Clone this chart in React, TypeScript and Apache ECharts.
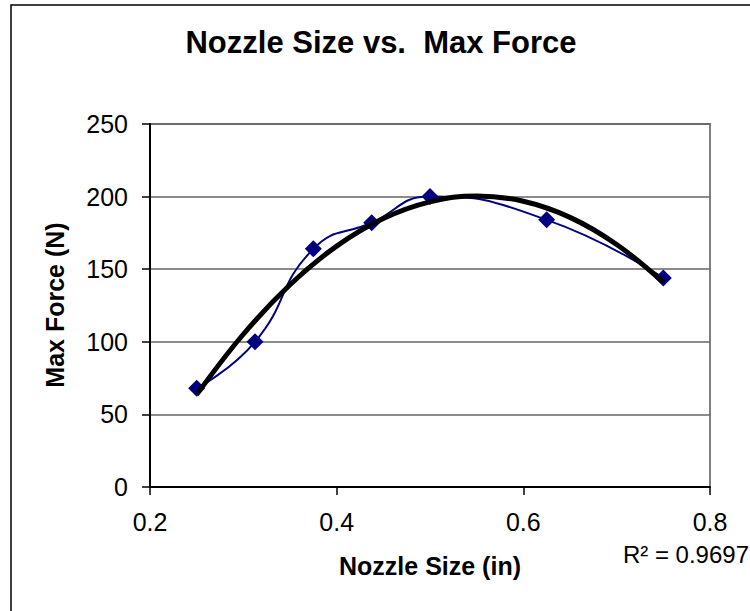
import React, { useEffect, useRef } from "react";
import * as echarts from "echarts";

const nozzleSizes = [0.25, 0.3125, 0.375, 0.4375, 0.5, 0.625, 0.75];
const maxForces = [68, 100, 164, 182, 200, 184, 144];
const trendX = [0.25, 0.3, 0.35, 0.4, 0.45, 0.5, 0.55, 0.6, 0.65, 0.7, 0.75];
const trendY = [63.6, 105.2, 139.3, 165.9, 184.9, 196.4, 200.4, 196.8, 185.7, 167.0, 140.9];
const titleText = "Nozzle Size vs.  Max Force";
const xAxisTitle = "Nozzle Size (in)";
const yAxisTitle = "Max Force (N)";
const r2Text = "R² = 0.9697";

const FONT = "'Liberation Sans', Arial, sans-serif";

export default function App() {
  const ref = useRef<HTMLDivElement>(null);
  useEffect(() => {
    document.body.style.margin = "0";
    const chart = echarts.init(ref.current!, null, { renderer: "svg" });
    chart.setOption({
      animation: false,
      backgroundColor: "#ffffff",
      grid: {
        left: 150,
        right: 40,
        top: 124,
        bottom: 124,
        show: true,
        borderColor: "#808080",
        borderWidth: 2,
        backgroundColor: "transparent",
      },
      xAxis: {
        type: "value",
        min: 0.2,
        max: 0.8,
        interval: 0.2,
        axisLine: { show: true, onZero: false, lineStyle: { color: "#000", width: 2 } },
        axisTick: { show: true, inside: false, length: 8, lineStyle: { color: "#000", width: 1.5 } },
        splitLine: { show: false },
        axisLabel: {
          color: "#000",
          fontFamily: FONT,
          fontSize: 25,
          margin: 22,
          formatter: (v: number) => String(Math.round(v * 10) / 10),
        },
      },
      yAxis: {
        type: "value",
        min: 0,
        max: 250,
        interval: 50,
        axisLine: { show: true, onZero: false, lineStyle: { color: "#000", width: 2 } },
        axisTick: { show: true, inside: false, length: 8, lineStyle: { color: "#000", width: 1.5 } },
        splitLine: { show: true, lineStyle: { color: "#666", width: 1.5 } },
        axisLabel: {
          color: "#000",
          fontFamily: FONT,
          fontSize: 25,
          margin: 22,
        },
      },
      series: [
        {
          type: "line",
          data: nozzleSizes.map((x, i) => [x, maxForces[i]]),
          smooth: 0.5,
          lineStyle: { color: "#000080", width: 2 },
          itemStyle: { color: "#000080" },
          symbol: "diamond",
          symbolSize: 17,
          z: 2,
        },
        {
          type: "line",
          data: trendX.map((x, i) => [x, trendY[i]]),
          smooth: 0.4,
          showSymbol: false,
          symbol: "none",
          lineStyle: { color: "#000", width: 5 },
          z: 3,
        },
      ],
      graphic: [
        {
          type: "rect",
          shape: { x: 11, y: 5, width: 800, height: 700 },
          style: { fill: "none", stroke: "#000", lineWidth: 1.5 },
          silent: true,
        },
        {
          type: "text",
          x: 381,
          y: 42,
          style: {
            text: titleText,
            fontFamily: FONT,
            fontSize: 31,
            fontWeight: "bold",
            fill: "#000",
            align: "center",
            verticalAlign: "middle",
          },
        },
        {
          type: "text",
          x: 55,
          y: 305,
          rotation: Math.PI / 2,
          style: {
            text: yAxisTitle,
            fontFamily: FONT,
            fontSize: 25,
            fontWeight: "bold",
            fill: "#000",
            align: "center",
            verticalAlign: "middle",
          },
        },
        {
          type: "text",
          x: 430,
          y: 566,
          style: {
            text: xAxisTitle,
            fontFamily: FONT,
            fontSize: 25,
            fontWeight: "bold",
            fill: "#000",
            align: "center",
            verticalAlign: "middle",
          },
        },
        {
          type: "text",
          x: 749,
          y: 554,
          style: {
            text: r2Text,
            fontFamily: FONT,
            fontSize: 24,
            fill: "#000",
            align: "right",
            verticalAlign: "middle",
          },
        },
      ],
    });
    return () => chart.dispose();
  }, []);
  return <div ref={ref} style={{ width: 750, height: 611 }} />;
}
